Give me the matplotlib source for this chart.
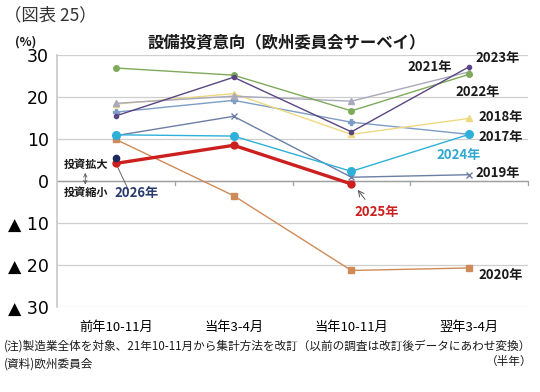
import numpy as np
import matplotlib
matplotlib.use("Agg")
import matplotlib.pyplot as plt

plt.rcParams['font.family'] = ['Noto Sans CJK JP', 'DejaVu Sans']

# categories (half-year survey rounds)
periods = ["前年10-11月", "当年3-4月", "当年10-11月", "翌年3-4月"]

# investment intention by target year (%)
y2017 = [16.4, 19.2, 14.0, 11.1]
y2018 = [18.3, 20.8, 11.1, 14.9]
y2019 = [10.8, 15.4, 0.9, 1.5]
y2020 = [9.9, -3.5, -21.3, -20.7]
y2021 = [18.5, 20.2, 19.0, 26.0]
y2022 = [26.9, 25.2, 16.7, 25.4]
y2023 = [15.5, 24.7, 11.7, 27.2]
y2024 = [11.0, 10.7, 2.3, 11.1]
y2025 = [4.2, 8.5, -0.7]
y2026 = [5.4]

yticks = [30, 20, 10, 0, -10, -20, -30]
ytick_labels = ["30", "20", "10", "0", "▲ 10", "▲ 20", "▲ 30"]

fig = plt.figure(figsize=(5.4, 3.92), dpi=100)
ax = fig.add_axes([0.1056, 0.2168, 0.8722, 0.6429])

def plot_series(vals, color, marker, ms, lw=1.0, z=2):
    x = np.arange(len(vals))
    ax.plot(x, vals, color=color, marker=marker, markersize=ms, lw=lw, zorder=z,
            markeredgewidth=1.0)

plot_series(y2020, "#d08a58", "s", 4)
plot_series(y2017, "#7d9cc6", "P", 4)
plot_series(y2018, "#eed880", "^", 4)
plot_series(y2021, "#a9a9bd", "^", 4)
plot_series(y2019, "#6b7ea6", "x", 4)
plot_series(y2022, "#7eaa5a", "o", 4)
plot_series(y2023, "#5a4682", "o", 3)
plot_series(y2024, "#2fb0da", "o", 5.5, lw=1.0, z=3)
plot_series(y2025, "#cc1f1f", "o", 5, lw=2.4, z=4)
plot_series(y2026, "#1c2a5e", "o", 4.5, z=5)

ax.set_xlim(-0.5, 3.5)
ax.set_ylim(-30, 30)
ax.set_yticks(yticks)
ax.set_yticklabels(ytick_labels, fontsize=12.5, family=['DejaVu Sans'])
ax.set_xticks(range(len(periods)))
ax.set_xticklabels(periods, fontsize=9.5)
ax.tick_params(axis='both', length=0, pad=6)
ax.tick_params(axis='x', pad=10)
ax.grid(axis='y', color='#cfcfcf', lw=0.9)
ax.set_axisbelow(True)
for s in ['top', 'right', 'bottom']:
    ax.spines[s].set_visible(False)
ax.spines['left'].set_color('#c8c8c8')
ax.spines['left'].set_linewidth(1.2)

# zero axis with category boundary ticks
ax.axhline(0, color='#a0a0a0', lw=1.0, zorder=1)
for b in [0.5, 1.5, 2.5, 3.5]:
    ax.plot([b, b], [0, -0.9], color='#a0a0a0', lw=0.9, zorder=1, clip_on=False)

# series labels
lab = dict(fontsize=9.5, fontweight='bold', va='center', ha='left')
ax.text(3.05, 29.4, "2023年", color='#1a1a1a', **lab)
ax.text(2.48, 27.1, "2021年", color='#1a1a1a', **lab)
ax.text(2.88, 21.1, "2022年", color='#1a1a1a', **lab)
ax.text(3.08, 15.3, "2018年", color='#1a1a1a', **lab)
ax.text(3.08, 10.5, "2017年", color='#1a1a1a', **lab)
ax.text(2.72, 6.2, "2024年", color='#2fa8d4', **lab)
ax.text(3.05, 1.9, "2019年", color='#1a1a1a', **lab)
ax.text(3.08, -22.3, "2020年", color='#1a1a1a', **lab)
ax.text(2.03, -7.3, "2025年", color='#cc1f1f', **lab)
ax.text(-0.01, -2.8, "2026年", color='#2a3a6e', **lab)

ax.annotate("", xy=(2.04, -1.6), xytext=(2.13, -4.9),
            arrowprops=dict(arrowstyle='->', color='#555555', lw=0.7))
ax.plot([0.01, 0.106], [3.6, -2.1], color='#666666', lw=0.7, zorder=1)

ax.text(-0.254, 4.0, "投資拡大", fontsize=8, fontweight='bold', ha='center', va='center', color='#1a1a1a')
ax.text(-0.254, -2.8, "投資縮小", fontsize=8, fontweight='bold', ha='center', va='center', color='#1a1a1a')
ax.annotate("", xy=(-0.26, 2.6), xytext=(-0.26, -1.5),
            arrowprops=dict(arrowstyle='<->', color='#555555', lw=0.6, mutation_scale=6))

fig.text(0.008, 0.962, "（図表 25）", fontsize=12.5, ha='left', va='center', color='#333333')
fig.text(0.53, 0.893, "設備投資意向（欧州委員会サーベイ）", fontsize=11.8, fontweight='bold',
         ha='center', va='center', color='#1a1a1a')
fig.text(0.028, 0.893, "(%)", fontsize=9, fontweight='bold', ha='left', va='center', color='#1a1a1a')

fig.text(0.008, 0.117, "(注)製造業全体を対象、21年10-11月から集計方法を改訂（以前の調査は改訂後データにあわせ変換）",
         fontsize=8.4, ha='left', va='center', color='#1a1a1a')
fig.text(0.008, 0.072, "(資料)欧州委員会", fontsize=8.4, ha='left', va='center', color='#1a1a1a')
fig.text(0.985, 0.077, "（半年）", fontsize=8.4, ha='right', va='center', color='#1a1a1a')

fig.savefig("out.png", dpi=100)
